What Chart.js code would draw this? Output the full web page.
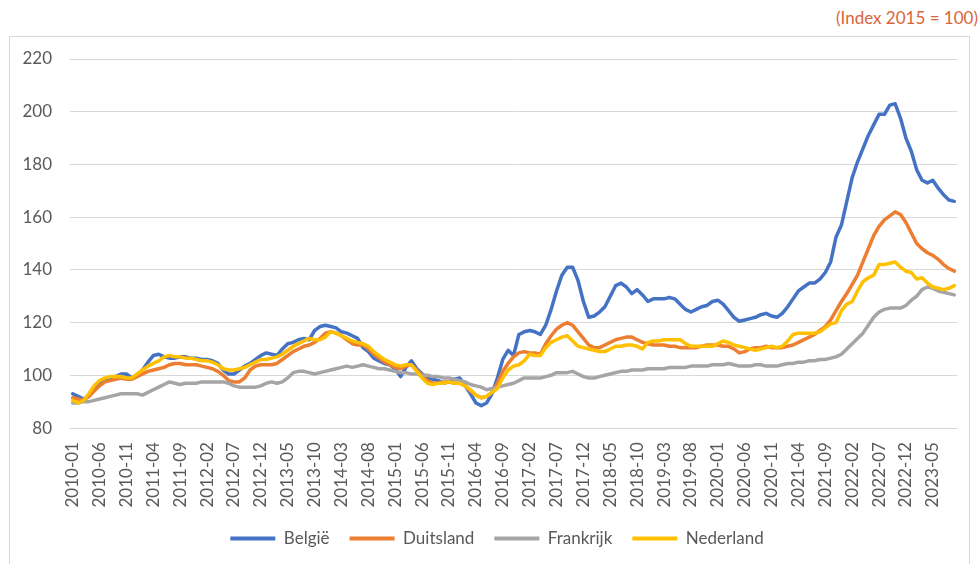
<!DOCTYPE html>
<html lang="nl">
<head>
<meta charset="utf-8">
<title>Woningprijzen (Index 2015 = 100)</title>
<script src="https://cdn.jsdelivr.net/npm/chart.js@4.4.1/dist/chart.umd.min.js"></script>
<style>
    html, body {
        margin: 0;
        padding: 0;
        background: #ffffff;
    }
    body {
        width: 980px;
        height: 564px;
        position: relative;
        overflow: hidden;
        font-family: Lato, "Open Sans", sans-serif;
    }
    .index-note {
        position: absolute;
        right: 2px;
        top: 7px;
        font-size: 17px;
        color: #D9653B;
        white-space: nowrap;
    }
    .chart-frame {
        position: absolute;
        left: 9px;
        top: 36px;
        width: 959px;
        height: 560px;
        border: 1px solid #D9D9D9;
    }
    .chart-frame canvas {
        display: block;
    }
</style>
</head>
<body>
<div class="index-note">(Index 2015 = 100)</div>
<div class="chart-frame">
    <canvas id="prijsChart" width="959" height="560"></canvas>
</div>
<script>
// Maandelijkse reeks: 2010-01 t/m 2023-09
const startJaar = 2010;
const aantalMaanden = 165;

// Labels die op de x-as getoond worden (om de 5 maanden)
const zichtbareLabels = [
    '2010-01', '2010-06', '2010-11', '2011-04', '2011-09', '2012-02', '2012-07',
    '2012-12', '2013-05', '2013-10', '2014-03', '2014-08', '2015-01', '2015-06',
    '2015-11', '2016-04', '2016-09', '2017-02', '2017-07', '2017-12', '2018-05',
    '2018-10', '2019-03', '2019-08', '2020-01', '2020-06', '2020-11', '2021-04',
    '2021-09', '2022-02', '2022-07', '2022-12', '2023-05'
];

const yTicks = [80, 100, 120, 140, 160, 180, 200, 220];

// Een rij per jaar
const belgie = [
    93, 92, 91, 92, 94.5, 97, 98.5, 99, 99.5, 100.5, 100.5, 99,
    100, 102, 105, 107.5, 108, 107, 106.5, 106.5, 107, 107, 106.5, 106.5,
    106, 106, 105.5, 104.5, 102, 100.5, 100.5, 102, 103.5, 104.5, 106, 107.5,
    108.5, 108, 107.5, 110, 112, 112.5, 113.5, 114, 113.5, 117, 118.5, 119,
    118.5, 118, 116.5, 116, 115, 114, 110.5, 109, 106.5, 105.5, 104.5, 104,
    102.5, 99.5, 103, 105.5, 102.5, 100.5, 99, 98.5, 98, 97, 97.5, 98.5,
    99, 96, 93, 89.5, 88.5, 89.5, 93, 99, 106, 109.5, 107.5, 115.5,
    116.5, 117, 116.5, 115.5, 119, 125, 132, 138, 141, 141, 136, 128,
    122, 122.5, 124, 126, 130, 134, 135, 133.5, 131, 132.5, 130.5, 128,
    129, 129, 129, 129.5, 129, 127, 125, 124, 125, 126, 126.5, 128,
    128.5, 127, 124.5, 122, 120.5, 121, 121.5, 122, 123, 123.5, 122.5, 122,
    123.5, 126, 129, 132, 133.5, 135, 135, 136.5, 139, 143, 152.5, 157,
    166, 175, 181, 186, 191, 195, 199, 199, 202.5, 203, 197.5, 190,
    185, 178, 174, 173, 174, 171, 168.5, 166.5, 166
];

const duitsland = [
    91.5, 91, 90.5, 92, 94, 96, 97.5, 98, 98.5, 99, 98.5, 98.5,
    99.5, 100.5, 101.5, 102, 102.5, 103, 104, 104.5, 104.5, 104, 104, 104,
    103.5, 103, 102.5, 101.5, 100, 98, 97.5, 97.5, 99, 102, 103.5, 104,
    104, 104, 104.5, 106, 107.5, 109, 110, 111, 111.5, 112.5, 114, 116,
    116.5, 116, 115, 113.5, 112, 111.5, 111.5, 110, 108, 106.5, 105, 104,
    103, 102.5, 103.5, 104, 102, 100, 98, 97, 97, 97.5, 97.5, 97,
    97, 96, 94, 92.5, 91.5, 92, 93.5, 97, 101.5, 104.5, 107, 108.5,
    109, 108.5, 108.5, 108, 112, 115, 117.5, 119, 120, 119, 116.5, 114,
    111.5, 110.5, 110.5, 111.5, 112.5, 113.5, 114, 114.5, 114.5, 113.5, 112.5, 112,
    111.5, 111.5, 111.5, 111, 111, 110.5, 110.5, 110.5, 110.5, 111, 111.5, 111.5,
    111.5, 111, 111, 110, 108.5, 109, 110, 110.5, 110.5, 111, 110.5, 110.5,
    110.5, 111, 111.5, 112.5, 113.5, 114.5, 115.5, 117, 118.5, 121, 124.5, 128,
    131, 134.5, 138, 143, 148, 153, 156.5, 159, 160.5, 162, 161, 158,
    154, 150, 148, 146.5, 145.5, 144, 142, 140.5, 139.5
];

const frankrijk = [
    89.5, 89.5, 90, 90, 90.5, 91, 91.5, 92, 92.5, 93, 93, 93,
    93, 92.5, 93.5, 94.5, 95.5, 96.5, 97.5, 97, 96.5, 97, 97, 97,
    97.5, 97.5, 97.5, 97.5, 97.5, 97, 96, 95.5, 95.5, 95.5, 95.5, 96,
    97, 97.5, 97, 97.5, 99, 101, 101.5, 101.5, 101, 100.5, 101, 101.5,
    102, 102.5, 103, 103.5, 103, 103.5, 104, 103.5, 103, 102.5, 102.5, 102,
    101.5, 101, 101, 100.5, 100.5, 100, 100, 99.5, 99.5, 99, 99, 98.5,
    98, 97.5, 96.5, 96, 95.5, 94.5, 95, 95.5, 96, 96.5, 97, 98,
    99, 99, 99, 99, 99.5, 100, 101, 101, 101, 101.5, 100.5, 99.5,
    99, 99, 99.5, 100, 100.5, 101, 101.5, 101.5, 102, 102, 102, 102.5,
    102.5, 102.5, 102.5, 103, 103, 103, 103, 103.5, 103.5, 103.5, 103.5, 104,
    104, 104, 104.5, 104, 103.5, 103.5, 103.5, 104, 104, 103.5, 103.5, 103.5,
    104, 104.5, 104.5, 105, 105, 105.5, 105.5, 106, 106, 106.5, 107, 108,
    110, 112, 114, 116, 119, 122, 124, 125, 125.5, 125.5, 125.5, 126.5,
    128.5, 130, 132.5, 133.5, 133, 132, 131.5, 131, 130.5
];

const nederland = [
    90.5, 89.5, 90.5, 93, 96, 98, 99, 99.5, 99.5, 99.5, 99, 99,
    100.5, 102, 103.5, 104.5, 105.5, 107, 107.5, 107, 107, 106.5, 106.5, 106,
    105.5, 105.5, 105, 104, 102.5, 102, 102, 102.5, 103, 104, 105, 106,
    106, 106.5, 107, 108, 109.5, 111, 112, 113, 114, 113.5, 113.5, 114.5,
    116.5, 116, 115, 114, 113, 112.5, 112, 111, 109, 107.5, 106, 105,
    104, 103.5, 104, 104, 101.5, 99, 97, 96.5, 97, 97, 97.5, 97,
    97, 96, 94.5, 92.5, 91.5, 92, 93.5, 95, 99, 102, 103.5, 104,
    105.5, 108, 107.5, 107.5, 110.5, 112.5, 113.5, 114.5, 115, 113, 111, 110.5,
    110, 109.5, 109, 109, 110, 111, 111, 111.5, 111.5, 111, 110, 112.5,
    113, 113, 113.5, 113.5, 113.5, 113.5, 112, 111, 111, 111, 111, 111,
    112, 113, 112.5, 111.5, 111, 110.5, 110, 109.5, 110, 110.5, 111, 110.5,
    111, 113, 115.5, 116, 116, 116, 116, 116.5, 118, 119.5, 120, 124.5,
    127, 128, 132, 135.5, 137, 138, 142, 142, 142.5, 143, 141, 139.5,
    139, 136.5, 137, 135, 133.5, 133, 132.5, 133, 134
];

document.addEventListener('DOMContentLoaded', function() {
    const canvas = document.getElementById('prijsChart');
    const tekstKleur = '#595959';
    const rasterKleur = '#D9D9D9';
    const lettertype = 'Lato, "Open Sans", sans-serif';

    // Categorieën opbouwen: JJJJ-MM
    const maanden = [];
    for (let i = 0; i < aantalMaanden; i++) {
        const jaar = startJaar + Math.floor(i / 12);
        const maand = (i % 12) + 1;
        maanden.push(jaar + '-' + String(maand).padStart(2, '0'));
    }

    function reeks(label, data, kleur, volgorde) {
        return {
            label: label,
            data: data,
            borderColor: kleur,
            backgroundColor: kleur,
            borderWidth: 3.5,
            pointRadius: 0,
            tension: 0,
            borderJoinStyle: 'round',
            borderCapStyle: 'round',
            order: volgorde
        };
    }

    // Legenda iets naar rechts, zoals in het origineel
    const legendaVerschuiving = {
        id: 'legendaVerschuiving',
        afterLayout: function(chart) {
            if (chart.legend) {
                chart.legend.left += 15;
            }
        }
    };

    new Chart(canvas, {
        type: 'line',
        data: {
            labels: maanden,
            datasets: [
                reeks('België', belgie, '#4472C4', 4),
                reeks('Duitsland', duitsland, '#ED7D31', 3),
                reeks('Frankrijk', frankrijk, '#A5A5A5', 2),
                reeks('Nederland', nederland, '#FFC000', 1)
            ]
        },
        plugins: [legendaVerschuiving],
        options: {
            responsive: false,
            animation: false,
            layout: {
                padding: { top: 22, right: 0, bottom: 40, left: 0 }
            },
            plugins: {
                tooltip: { enabled: false },
                legend: {
                    position: 'bottom',
                    labels: {
                        color: tekstKleur,
                        font: { family: lettertype, size: 17 },
                        boxWidth: 45,
                        boxHeight: 4,
                        padding: 20,
                        generateLabels: function(chart) {
                            return chart.data.datasets.map(function(ds, i) {
                                return {
                                    text: ds.label,
                                    fillStyle: ds.borderColor,
                                    strokeStyle: ds.borderColor,
                                    lineWidth: 0,
                                    fontColor: tekstKleur,
                                    hidden: false,
                                    datasetIndex: i
                                };
                            });
                        }
                    }
                }
            },
            scales: {
                x: {
                    type: 'category',
                    offset: true,
                    afterFit: function(scale) {
                        // legenda dichter bij de as, rechterrand vast
                        scale.height = scale.height - 11.5;
                        scale.paddingLeft = 0;
                        scale.paddingRight = 12;
                    },
                    grid: { display: false, drawTicks: false },
                    border: { display: true, color: rasterKleur, width: 1 },
                    ticks: {
                        autoSkip: false,
                        minRotation: 90,
                        maxRotation: 90,
                        padding: 14,
                        color: tekstKleur,
                        font: { family: lettertype, size: 17 },
                        callback: function(value) {
                            const label = this.getLabelForValue(value);
                            return zichtbareLabels.includes(label) ? label : '';
                        }
                    }
                },
                y: {
                    min: yTicks[0],
                    max: yTicks[yTicks.length - 1],
                    afterFit: function(scale) {
                        scale.width = 60;
                        scale.paddingTop = 0;
                        scale.paddingBottom = 0;
                    },
                    afterBuildTicks: function(scale) {
                        scale.ticks = yTicks.map(v => ({ value: v }));
                    },
                    grid: { color: rasterKleur, lineWidth: 1, drawTicks: false },
                    border: { display: false },
                    ticks: {
                        padding: 18,
                        color: tekstKleur,
                        font: { family: lettertype, size: 17 }
                    }
                }
            }
        }
    });
});
</script>
</body>
</html>
